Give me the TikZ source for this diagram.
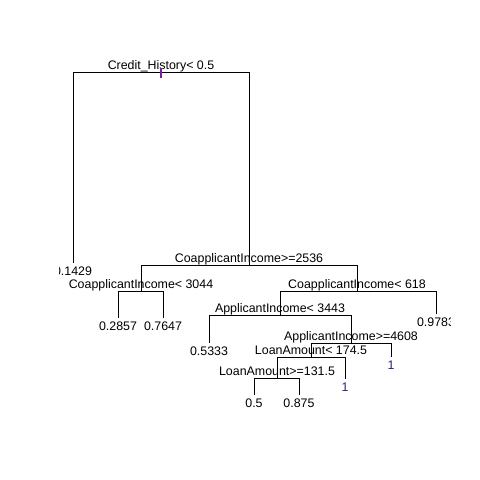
\documentclass[tikz,border=0pt]{standalone}
\usepackage{fontspec}
\setmainfont{Liberation Sans}
\definecolor{tickcol}{HTML}{7A1FA0}
\definecolor{onecol}{HTML}{3A1A80}
\begin{document}
\begin{tikzpicture}[x=1pt,y=-1pt,
  edge/.style={line width=1pt, black},
  splitlab/.style={anchor=base, inner sep=0pt, font=\fontsize{12.4}{14}\selectfont},
  leaflab/.style={anchor=base, inner sep=0pt, font=\fontsize{12.4}{14}\selectfont}]
\useasboundingbox (0,0) rectangle (480,480);
\fill[white] (0,0) rectangle (480,480);
\begin{scope}
\clip (59,59) rectangle (450,407);
% internal nodes
\coordinate (n1) at (161,72);
\coordinate (n2) at (249,265.5);
\coordinate (n3) at (141,291.5);
\coordinate (n4) at (357,291.5);
\coordinate (n5) at (280,315);
\coordinate (n6) at (351,343);
\coordinate (n7) at (311,357);
\coordinate (n8) at (277,378.5);
% leaves
\coordinate (l1) at (73,263);
\coordinate (l2) at (118,318);
\coordinate (l3) at (163,318);
\coordinate (l4) at (436,314);
\coordinate (l5) at (209,343);
\coordinate (l6) at (391,357);
\coordinate (l7) at (345,378.5);
\coordinate (l8) at (254,395);
\coordinate (l9) at (299,395);
% connectors
\draw[edge] (n1) -| (l1);
\draw[edge] (n1) -| (n2);
\draw[edge] (n2) -| (n3);
\draw[edge] (n2) -| (n4);
\draw[edge] (n3) -| (l2);
\draw[edge] (n3) -| (l3);
\draw[edge] (n4) -| (n5);
\draw[edge] (n4) -| (l4);
\draw[edge] (n5) -| (l5);
\draw[edge] (n5) -| (n6);
\draw[edge] (n6) -| (n7);
\draw[edge] (n6) -| (l6);
\draw[edge] (n7) -| (n8);
\draw[edge] (n7) -| (l7);
\draw[edge] (n8) -| (l8);
\draw[edge] (n8) -| (l9);
% split labels
\node[splitlab] (s1) at ([yshift=3pt]n1) {Credit\_History< 0.5};
\node[splitlab] (s2) at ([yshift=3pt]n2) {CoapplicantIncome>=2536};
\node[splitlab] (s3) at ([yshift=3pt]n3) {CoapplicantIncome< 3044};
\node[splitlab] (s4) at ([yshift=3pt]n4) {CoapplicantIncome< 618};
\node[splitlab] (s5) at ([yshift=3pt]n5) {ApplicantIncome< 3443};
\node[splitlab] (s6) at ([yshift=3pt]n6) {ApplicantIncome>=4608};
\node[splitlab] (s7) at ([yshift=3pt]n7) {LoanAmount< 174.5};
\node[splitlab] (s8) at ([yshift=3pt]n8) {LoanAmount>=131.5};
% root tick
\draw[tickcol, line width=1.1pt] ([yshift=4pt]n1) -- ([yshift=-6pt]n1);
% leaf labels
\node[leaflab] (t1) at ([yshift=-12.8pt]l1) {0.1429};
\node[leaflab] (t2) at ([yshift=-12.8pt]l2) {0.2857};
\node[leaflab] (t3) at ([yshift=-12.8pt]l3) {0.7647};
\node[leaflab] (t4) at ([yshift=-12.8pt]l4) {0.9783};
\node[leaflab] (t5) at ([yshift=-12.8pt]l5) {0.5333};
\node[leaflab, text=onecol] (t6) at ([yshift=-12.8pt]l6) {1};
\node[leaflab, text=onecol] (t7) at ([yshift=-12.8pt]l7) {1};
\node[leaflab] (t8) at ([yshift=-12.8pt]l8) {0.5};
\node[leaflab] (t9) at ([yshift=-12.8pt]l9) {0.875};
\end{scope}
\end{tikzpicture}
\end{document}
